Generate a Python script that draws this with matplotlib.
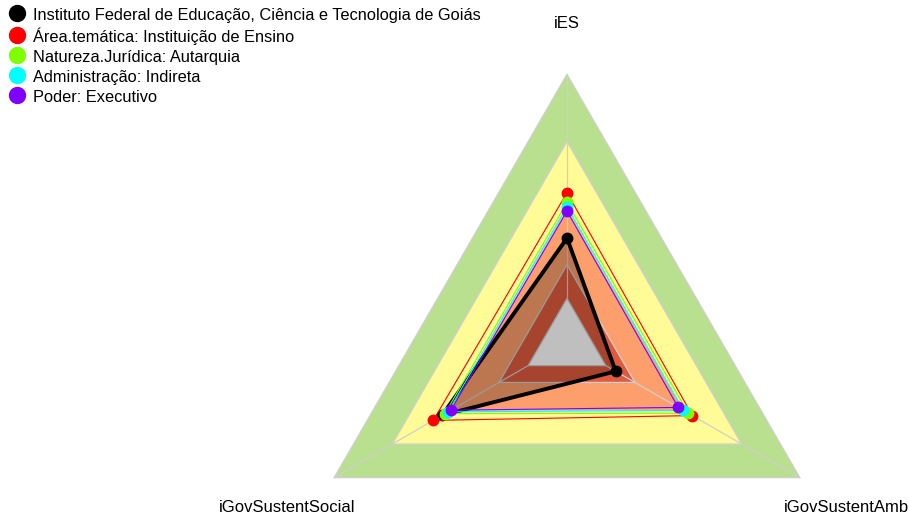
import numpy as np
import matplotlib
matplotlib.use("Agg")
import matplotlib.pyplot as plt
from matplotlib.lines import Line2D
from matplotlib.patches import Polygon

plt.rcParams["font.family"] = ["Liberation Sans", "DejaVu Sans"]

# ---- data -------------------------------------------------------------
axis_labels = ["iES", "iGovSustentAmb", "iGovSustentSocial"]
axis_angles_deg = [90, -30, 210]

series_names = [
    "Instituto Federal de Educação, Ciência e Tecnologia de Goiás",
    "Área.temática: Instituição de Ensino",
    "Natureza.Jurídica: Autarquia",
    "Administração: Indireta",
    "Poder: Executivo",
]
series_colors = ["#000000", "#ff0000", "#7fff00", "#00ffff", "#8000ff"]

ies_values = [0.269, 0.472, 0.429, 0.409, 0.390]
amb_values = [0.051, 0.446, 0.425, 0.399, 0.373]
social_values = [0.443, 0.489, 0.429, 0.413, 0.398]

# governance level bands (value limits) and their colours
band_limits = [0.0, 0.15, 0.40, 0.70, 1.0]
band_colors = ["#e05b3e", "#fd9f6c", "#fffb96", "#b9e08f"]

# ---- geometry helpers ---------------------------------------------------
CENTER_GAP = 1.0
SEGMENTS = 5.0
theta = np.deg2rad(axis_angles_deg)


def radius(v):
    """Radial position of a value, leaving a gap around the centre."""
    return (CENTER_GAP + SEGMENTS * np.asarray(v, dtype=float)) / (SEGMENTS + CENTER_GAP)


def to_xy(values):
    r = radius(values)
    return r * np.cos(theta), r * np.sin(theta)


# ---- figure -------------------------------------------------------------
W, H, DPI = 909, 517, 100
fig = plt.figure(figsize=(W / DPI, H / DPI), dpi=DPI)
ax = fig.add_axes([0, 0, 1, 1])
cx, cy, R = 567.0, 343.2, 268.9
ax.set_xlim(-cx / R, (W - cx) / R)
ax.set_ylim(-(H - cy) / R, cy / R)
ax.set_aspect("equal")
ax.axis("off")

edge_grey = "#cfcfcf"

# bands, outermost first
for lim, col in zip(band_limits[:0:-1], band_colors[::-1]):
    x, y = to_xy([lim] * 3)
    ax.add_patch(Polygon(np.column_stack([x, y]), closed=True,
                         facecolor=col, edgecolor=edge_grey, lw=0.9, zorder=1))
x0, y0 = to_xy([band_limits[0]] * 3)
ax.add_patch(Polygon(np.column_stack([x0, y0]), closed=True,
                     facecolor="white", edgecolor=edge_grey, lw=0.9, zorder=1))

# radial axes
x_in, y_in = to_xy([0.0] * 3)
x_out, y_out = to_xy([1.0] * 3)
for i in range(3):
    ax.plot([x_in[i], x_out[i]], [y_in[i], y_out[i]], color=edge_grey,
            lw=0.9, zorder=2)

# axis labels
label_drop = 3.0 / R
for lab, t in zip(axis_labels, theta):
    ax.text(1.2 * np.cos(t), 1.2 * np.sin(t) - label_drop, lab,
            ha="center", va="center", fontsize=12, color="#000000", zorder=6)

# series
table = np.column_stack([ies_values, amb_values, social_values])
for i, (name, col) in enumerate(zip(series_names, series_colors)):
    x, y = to_xy(table[i])
    if i == 0:
        ax.add_patch(Polygon(np.column_stack([x, y]), closed=True,
                             facecolor=(0, 0, 0, 0.25), edgecolor="none",
                             zorder=3))
    xc, yc = np.append(x, x[0]), np.append(y, y[0])
    ax.plot(xc, yc, color=col, lw=2.8 if i == 0 else 0.8, zorder=4 + i * 0.1,
            solid_joinstyle="miter")
    ax.plot(x, y, ls="none", marker="o", ms=7.5, color=col, mec=col,
            zorder=4.05 + i * 0.1)

# legend
handles = [Line2D([], [], ls="none", marker="o", ms=11.5, color=c, mec=c)
           for c in series_colors]
ax.legend(handles, series_names, loc="upper left",
          bbox_to_anchor=(9 / W, 1 - 7 / H), bbox_transform=fig.transFigure,
          frameon=False, fontsize=11.8, handlelength=1.0, handletextpad=0.47,
          labelspacing=0.25, borderpad=0, borderaxespad=0, handleheight=1.0)

fig.savefig("out.png", dpi=DPI)
